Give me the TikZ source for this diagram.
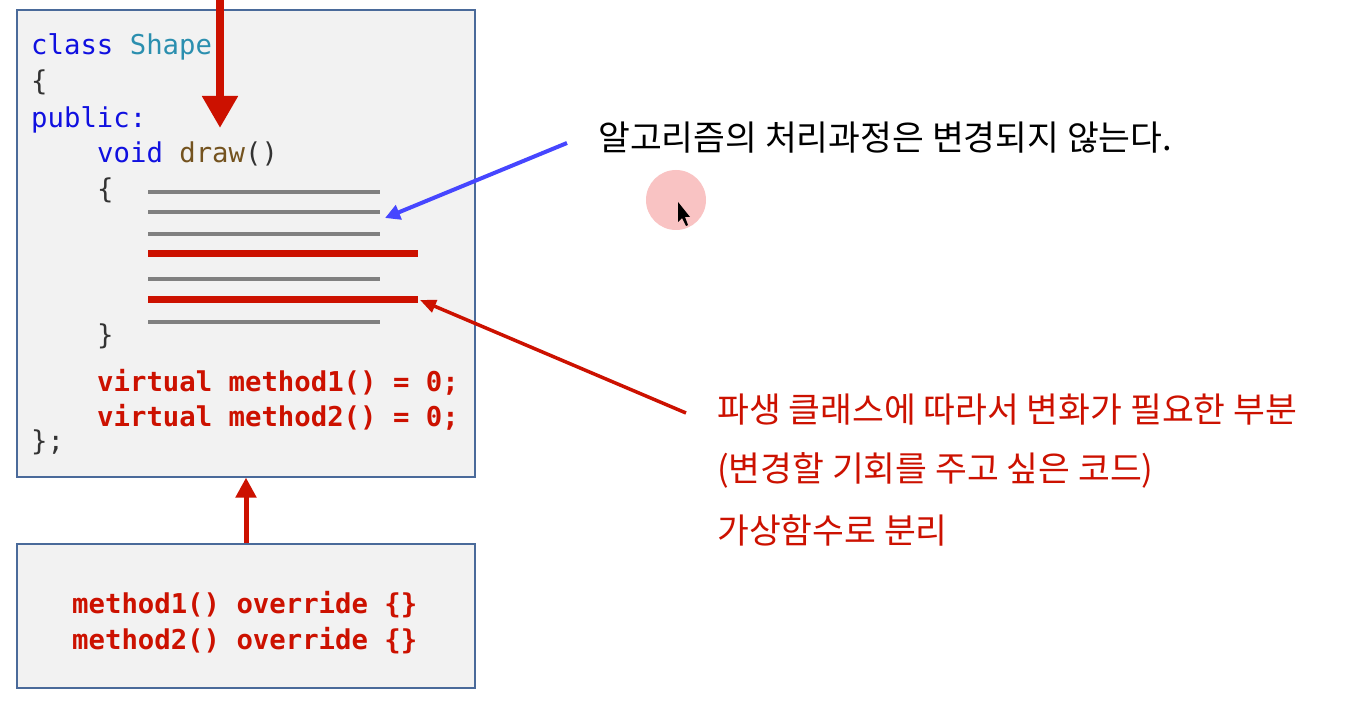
\documentclass[tikz,border=0pt]{standalone}
\usepackage{fontspec}
\setmonofont{DejaVu Sans Mono}
\newfontfamily\kr{Noto Sans CJK KR}
\usetikzlibrary{arrows.meta}
\definecolor{boxfill}{HTML}{F2F2F2}
\definecolor{boxline}{HTML}{4A6A9A}
\definecolor{kwblue}{HTML}{1010E0}
\definecolor{tyteal}{HTML}{2B8FAF}
\definecolor{fnbrown}{HTML}{74531F}
\definecolor{codered}{HTML}{CC1100}
\definecolor{linegray}{HTML}{808080}
\definecolor{arrblue}{HTML}{4646FF}
\definecolor{pinkdot}{HTML}{F9C3C3}
\definecolor{txtdark}{HTML}{333333}
\tikzset{
  codebox/.style={draw=boxline, line width=1.2pt, fill=boxfill, minimum width=458pt, inner sep=0pt},
  code/.style={anchor=base west, inner sep=0pt, font=\ttfamily\fontsize{27.3}{32}\selectfont},
  redcode/.style={code, text=codered, font=\ttfamily\bfseries\fontsize{27.3}{32}\selectfont},
  krtext/.style={anchor=west, inner sep=0pt, font=\kr\fontsize{34.6}{40}\selectfont},
  grayline/.style={draw=linegray, line width=4pt},
  redline/.style={draw=codered, line width=7pt},
}
\begin{document}
\begin{tikzpicture}[x=1pt,y=-1pt]
\useasboundingbox (0,0) rectangle (1345,708);
\fill[white] (0,0) rectangle (1345,708);
% boxes
\node[codebox, minimum height=467pt] (top) at (246,243.5) {};
\node[codebox, minimum height=144pt] (bot) at (246,616) {};
% code lines in the top box
\node[code] (l1) at (31,55) {\textcolor{kwblue}{class} \textcolor{tyteal}{Shape}};
\node[code, text=txtdark] (l2) at (31,91) {\{};
\node[code, text=kwblue] (l3) at (31,128) {public:};
\node[code] (l4) at (97,163) {\textcolor{kwblue}{void} \textcolor{fnbrown}{draw}\textcolor{txtdark}{()}};
\node[code, text=txtdark] (l5) at (97,199) {\{};
\node[code, text=txtdark] (l6) at (97,345) {\}};
\node[redcode] (l7) at (97,392) {virtual method1() = 0;};
\node[redcode] (l8) at (97,427) {virtual method2() = 0;};
\node[code, text=txtdark] (l9) at (31,451) {\};};
% body lines
\coordinate (g1a) at (148,192); \coordinate (g1b) at (380,192);
\coordinate (g2a) at (148,212); \coordinate (g2b) at (380,212);
\coordinate (g3a) at (148,234); \coordinate (g3b) at (380,234);
\coordinate (r1a) at (148,254); \coordinate (r1b) at (418,254);
\coordinate (g4a) at (148,279); \coordinate (g4b) at (380,279);
\coordinate (r2a) at (148,300); \coordinate (r2b) at (418,300);
\coordinate (g5a) at (148,322); \coordinate (g5b) at (380,322);
\draw[grayline] (g1a) -- (g1b);
\draw[grayline] (g2a) -- (g2b);
\draw[grayline] (g3a) -- (g3b);
\draw[redline] (r1a) -- (r1b);
\draw[grayline] (g4a) -- (g4b);
\draw[redline] (r2a) -- (r2b);
\draw[grayline] (g5a) -- (g5b);
% bottom box code
\node[redcode] (m1) at (72,613) {method1() override \{\}};
\node[redcode] (m2) at (72,649) {method2() override \{\}};
% big red arrow from top
\coordinate (ts) at (220,-2);
\coordinate (te) at (220,128);
\draw[draw=codered, line width=8pt, -{Triangle[width=34pt,length=32pt]}] (ts) -- (te);
% up arrow from bottom box to top box
\draw[draw=codered, line width=5pt, -{Triangle[width=20pt,length=20pt]}] (bot.north) -- (top.south);
% texts on the right
\node[krtext, text=black] (t1) at (598,138) {알고리즘의 처리과정은 변경되지 않는다.};
\node[krtext, text=codered] (t2) at (717,410) {파생 클래스에 따라서 변화가 필요한 부분};
\node[krtext, text=codered] (t3) at (717,470) {(변경할 기회를 주고 싶은 코드)};
\node[krtext, text=codered] (t4) at (717,530) {가상함수로 분리};
% pointer arrows
\coordinate (bs) at (567,143);
\coordinate (be) at (385,218);
\draw[draw=arrblue, line width=4pt, -{Triangle[width=15pt,length=15pt]}] (bs) -- (be);
\coordinate (rs) at (686,413);
\coordinate (re) at (420,300);
\draw[draw=codered, line width=3.5pt, -{Triangle[width=13pt,length=16pt]}] (rs) -- (re);
% cursor highlight
\fill[pinkdot] (676,200) circle (30pt);
\fill[black] (678,202) -- (678,222) -- (682,218) -- (686,226) -- (688,225) -- (685,217) -- (690,217) -- cycle;
\end{tikzpicture}
\end{document}
